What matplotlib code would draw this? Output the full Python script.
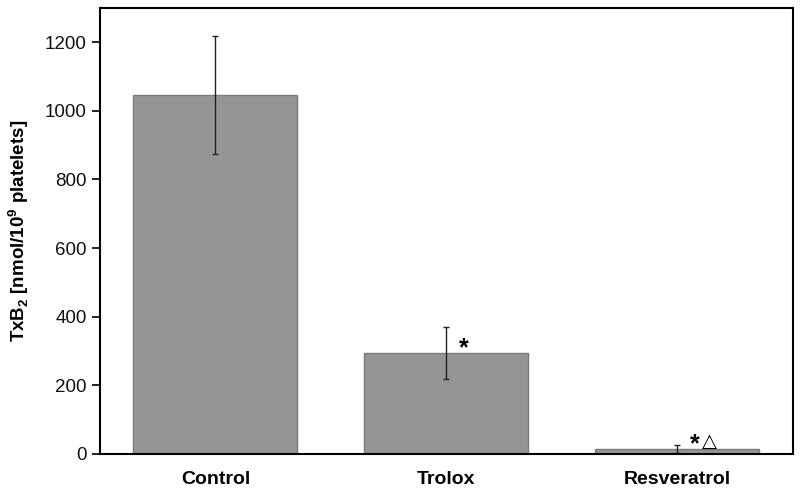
import matplotlib.pyplot as plt

plt.rcParams['font.family'] = ['Liberation Sans', 'DejaVu Sans']
plt.rcParams['mathtext.fontset'] = 'custom'
plt.rcParams['mathtext.rm'] = 'Liberation Sans'
plt.rcParams['mathtext.bf'] = 'Liberation Sans:bold'

groups = ["Control", "Trolox", "Resveratrol"]
means = [1046, 294, 14]
errors = [173, 75, 12]
stars = ["", "*", "*"]
triangles = ["", "", "\u25B3"]


def plot_bars():
    fig = plt.figure(figsize=(8, 4.96), dpi=100)
    ax = fig.add_axes([0.125, 0.085, 0.866, 0.899])

    x = list(range(len(groups)))
    ax.bar(x, means, width=0.71, color="#959595", edgecolor="#7a7a7a", linewidth=1)
    ax.errorbar(x, means, yerr=errors, fmt="none", ecolor="#222222",
                elinewidth=1, capsize=2.5, capthick=1)

    # significance marks, placed just right of the error bar
    for xi, m, s, t in zip(x, means, stars, triangles):
        if s:
            ax.text(xi + 0.055, m + 14, s, fontsize=18, fontweight="bold",
                    ha="left", va="center")
        if t:
            ax.text(xi + 0.105, m + 6, t, fontsize=14, ha="left",
                    va="baseline", family="DejaVu Sans")

    ax.set_xlim(-0.5, 2.5)
    ax.set_ylim(0, 1300)
    ax.set_yticks(range(0, 1201, 200))
    ax.set_xticks(x)
    ax.set_xticklabels(groups, fontsize=14, fontweight="bold")
    ax.tick_params(axis="x", length=0, pad=12)
    ax.tick_params(axis="y", direction="out", length=6, width=1.3,
                   labelsize=13.5, colors="#111111")
    for sp in ax.spines.values():
        sp.set_linewidth(1.5)
    ax.set_ylabel(r"TxB$_\mathbf{2}$ [nmol/10$^\mathbf{9}$ platelets]",
                  fontsize=13.5, fontweight="bold", labelpad=10)

    fig.savefig("out.png")


if __name__ == "__main__":
    plot_bars()
